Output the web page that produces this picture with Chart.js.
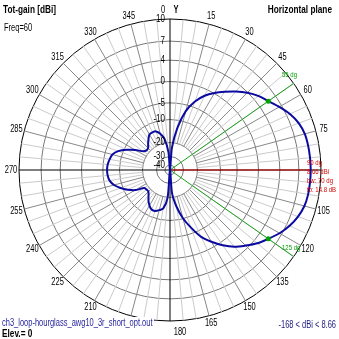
<!DOCTYPE html>
<html>
<head>
<meta charset="utf-8">
<script src="https://cdn.jsdelivr.net/npm/chart.js@4.4.1/dist/chart.umd.min.js"></script>
<style>
  html, body { margin: 0; padding: 0; background: #fff; }
  #wrap { width: 339px; height: 339px; }
</style>
</head>
<body>
<div id="wrap"><canvas id="polar" width="339" height="339"></canvas></div>
<script>
// azimuth of each sample, degrees clockwise from the Y axis
var azimuths = [0, 5, 10, 15, 20, 25, 30, 35, 40, 45, 50, 55, 60, 65, 70, 75, 80, 85,
  90, 95, 100, 105, 110, 115, 120, 125, 130, 135, 140, 145, 150, 155, 160, 165, 170, 175,
  180, 185, 190, 195, 200, 205, 210, 215, 220, 225, 230, 235, 240, 245, 250, 255, 260, 265,
  270, 275, 280, 285, 290, 295, 300, 305, 310, 315, 320, 325, 330, 335, 340, 345, 350, 355];

// total gain in dBi at each azimuth
var totGain = [-168, -23, -12.7, -6.7, -3.5, -1.4, 0.1, 1.4, 2.7, 3.9, 4.9, 5.66, 6.6, 7.5, 8.15, 8.5, 8.6, 8.64,
  8.66, 8.64, 8.6, 8.45, 8.05, 7.45, 6.65, 5.66, 4.7, 3.5, 2.3, 0.7, -1.2, -3.3, -6.6, -10.2, -15.2, -22.5,
  -50, -19.7, -14.4, -13.3, -12.5, -12.5, -13.5, -15.0, -16.9, -18.3, -18.3, -17.8, -13.9, -11.4, -9.3, -7.6, -6.6, -6.25,
  -6.14, -6.25, -6.6, -7.1, -8.5, -11.0, -13.9, -17.3, -18.3, -18.1, -16.6, -15.0, -13.5, -13.3, -13.5, -15.0, -17.8, -26.2];

// gain rings (dBi)
var ringDb = [10, 7, 4, 0, -5, -10, -20, -30, -40];

// azimuth labels every 15 dg
var azLabels = [0, 15, 30, 45, 60, 75, 105, 120, 135, 150, 165, 180, 195, 210, 225, 240, 255, 270, 285, 300, 315, 330, 345];

// -3 dB beam edges and max direction
var beamEdges = [55, 125];
var maxAzimuth = 90;
var maxGain = 8.66;
var frontBack = 14.8;

var FONT = "'Liberation Sans', Arial, sans-serif";
var SX = 0.75; // narrow lettering

// log-periodic radius: 0.905 per 2 dB, outer ring = 10 dBi
var rr = function(db) {
	var c = 0.0514;
	var v = (Math.pow(0.905, (10 - db) / 2) - c) / (1 - c);
	return Math.max(0, v);
};

var idxOf = function(az) { return azimuths.indexOf(az); };

var emptySeries = function() { return azimuths.map(function() { return null; }); };

var beamLine = emptySeries();
beamEdges.forEach(function(az) {
	beamLine[idxOf(az)] = 1;
	beamLine[idxOf(az) + 1] = 0;
});

var maxLine = emptySeries();
maxLine[idxOf(maxAzimuth)] = rr(maxGain);
maxLine[idxOf(maxAzimuth) + 1] = 0;

var beamDots = emptySeries();
beamEdges.forEach(function(az) {
	beamDots[idxOf(az)] = rr(totGain[idxOf(az)]);
});

// condensed text helper
var text = function(ctx, str, x, y, align, font, color, sx) {
	ctx.save();
	ctx.font = font;
	ctx.fillStyle = color || '#000';
	ctx.textAlign = align;
	ctx.textBaseline = 'middle';
	ctx.translate(x, y);
	ctx.scale(sx || SX, 1);
	ctx.fillText(str, 0, 0);
	ctx.restore();
};

var captions = {
	id: 'captions',
	afterDraw: function(chart) {
		var ctx = chart.ctx;
		var r = chart.scales.r;
		var R = r.drawingArea;

		// azimuth labels just outside the outer ring
		azLabels.forEach(function(az) {
			var i = idxOf(az);
			var p = r.getPointPosition(i, R + 8);
			if (az === 0) {
				text(ctx, '0', p.x - 7, p.y - 1, 'center', '10px ' + FONT);
				text(ctx, 'Y', p.x + 6, p.y - 1, 'center', 'bold 10px ' + FONT);
			} else if (az === 180) {
				text(ctx, '180', p.x + 10, p.y + 3, 'center', '10px ' + FONT);
			} else {
				text(ctx, String(az), p.x, p.y, 'center', '10px ' + FONT);
			}
		});

		// ring values along the Y axis
		ringDb.forEach(function(db) {
			text(ctx, String(db), r.xCenter - 5, r.yCenter - r.getDistanceFromCenterForValue(rr(db)), 'right', '10px ' + FONT, '#000', 0.8);
		});

		text(ctx, 'Tot-gain [dBi]', 3, 10, 'left', 'bold 11px ' + FONT);
		text(ctx, 'Horizontal plane', 332, 10, 'right', 'bold 11px ' + FONT);
		text(ctx, 'Freq=60', 4, 28, 'left', '10px ' + FONT);

		ctx.fillStyle = '#fff';
		ctx.fillRect(0, 317, 154, 22);
		text(ctx, 'ch3_loop-hourglass_awg10_3r_short_opt.out', 2, 323, 'left', '10px ' + FONT, '#2626a0');
		text(ctx, 'Elev.= 0', 2, 334, 'left', 'bold 11px ' + FONT);
		text(ctx, '-168 < dBi < ' + maxGain, 336, 325, 'right', '10px ' + FONT, '#1c1c80');

		text(ctx, beamEdges[0] + ' dg', 282, 75, 'left', '8px ' + FONT, '#00a000');
		text(ctx, beamEdges[1] + ' dg', 282, 248, 'left', '8px ' + FONT, '#00a000');
		text(ctx, maxAzimuth + ' dg', 307, 163, 'left', '8px ' + FONT, '#d00000');
		text(ctx, maxGain + ' dBi', 307, 172, 'left', '8px ' + FONT, '#d00000');
		text(ctx, 'bw: ' + (beamEdges[1] - beamEdges[0]) + ' dg', 307, 181, 'left', '8px ' + FONT, '#d00000');
		text(ctx, 'fb: ' + frontBack + ' dB', 307, 190, 'left', '8px ' + FONT, '#d00000');
	}
};

var ctx = document.getElementById('polar');
var polarChart = new Chart(ctx, {
	type: 'radar',
	data: {
		labels: azimuths,
		datasets: [
			{
				label: 'beam edges',
				data: beamDots,
				showLine: false,
				pointRadius: 2.5,
				pointBackgroundColor: '#00a000',
				pointBorderColor: '#00a000',
				pointBorderWidth: 0
			},
			{
				label: 'Tot-gain',
				data: totGain.map(rr),
				borderColor: '#0a0aa0',
				borderWidth: 2,
				pointRadius: 0,
				tension: 0.3,
				fill: false
			},
			{
				label: 'max',
				data: maxLine,
				borderColor: '#d00000',
				borderWidth: 1,
				pointRadius: 0,
				tension: 0,
				spanGaps: false,
				fill: false
			},
			{
				label: 'bw',
				data: beamLine,
				borderColor: '#1aa01a',
				borderWidth: 1,
				pointRadius: 0,
				tension: 0,
				spanGaps: false,
				fill: false
			}
		]
	},
	options: {
		responsive: false,
		animation: false,
		events: [],
		layout: { padding: { top: 19, bottom: 18, left: 19, right: 18 } },
		plugins: {
			legend: { display: false },
			tooltip: { enabled: false }
		},
		scales: {
			r: {
				min: 0,
				max: 1,
				startAngle: 0,
				afterBuildTicks: function(scale) {
					var vals = [0].concat(ringDb.slice().reverse().map(rr));
					scale.ticks = vals.map(function(v) { return { value: v }; });
				},
				ticks: { display: false },
				grid: {
					circular: true,
					lineWidth: 1,
					color: function(c) {
						return c.tick && c.tick.value > 0.999 ? '#000000' : '#787878';
					}
				},
				angleLines: {
					lineWidth: 1,
					color: function(c) {
						if (c.index % 18 === 0) return '#000000';
						if (c.index % 3 === 0) return '#888888';
						return '#cacaca';
					},
					borderDash: function(c) {
						if (c.index % 18 === 0) return [];
						var s = c.chart.scales.r;
						var inner = s.getDistanceFromCenterForValue(rr(-20));
						return [0, inner, 400];
					}
				},
				pointLabels: { display: false }
			}
		}
	},
	plugins: [captions]
});
</script>
</body>
</html>
